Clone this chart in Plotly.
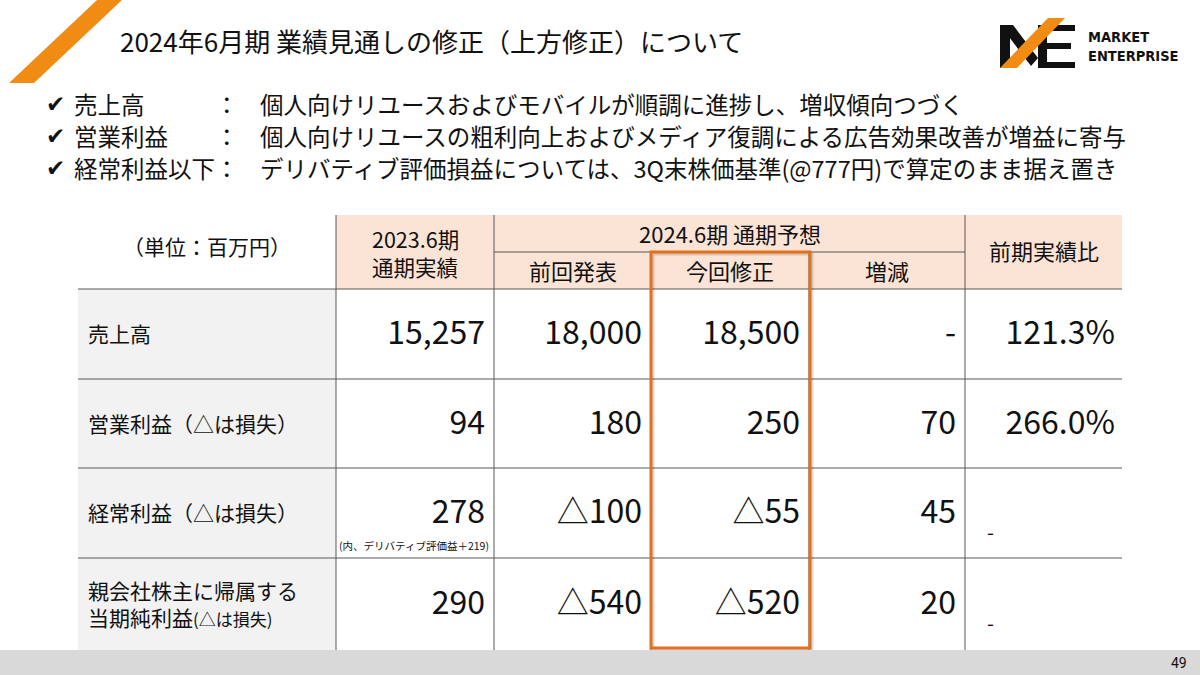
import plotly.graph_objects as go

W, H = 1200, 675
FONT = "Noto Sans CJK JP"

TITLE = "2024年6月期 業績見通しの修正（上方修正）について"
BULLET_LABELS = ["売上高", "営業利益", "経常利益以下"]
BULLET_TEXTS = [
    "個人向けリユースおよびモバイルが順調に進捗し、増収傾向つづく",
    "個人向けリユースの粗利向上およびメディア復調による広告効果改善が増益に寄与",
    "デリバティブ評価損益については、3Q末株価基準(@777円)で算定のまま据え置き",
]

UNIT_LABEL = "（単位：百万円）"
HEAD_2023 = ["2023.6期", "通期実績"]
HEAD_2024 = "2024.6期 通期予想"
SUB_HEADS = ["前回発表", "今回修正", "増減"]
HEAD_YOY = "前期実績比"

ROW_LABELS = [
    "売上高",
    "営業利益（△は損失）",
    "経常利益（△は損失）",
    "親会社株主に帰属する<br>当期純利益<span style='font-size:17px'>(△は損失)</span>",
]
FY2023 = ["15,257", "94", "278", "290"]
PREV = ["18,000", "180", "△100", "△540"]
REVISED = ["18,500", "250", "△55", "△520"]
CHANGE = ["-", "70", "45", "20"]
YOY = ["121.3%", "266.0%", "-", "-"]
NOTE_2023 = "(内、デリバティブ評価益＋219)"
PAGE = "49"

# table grid (pixels, y downward)
COL_EDGES = [78, 336, 494, 651, 809, 965, 1122]
ROW_EDGES = [215, 252, 289, 379, 468, 558, 650]

LINE = "#595959"
PINK = "#FBE4D5"
GRAY = "#F2F2F2"
ORANGE = "#F08C14"
BOX = "#E2711D"

fig = go.Figure()
shapes = []
ann = []


def rect(x0, y0, x1, y1, fill):
    shapes.append(dict(type="rect", xref="x", yref="y", x0=x0, y0=y0, x1=x1, y1=y1,
                       fillcolor=fill, line=dict(width=0), layer="below"))


def seg(x0, y0, x1, y1, color=LINE, width=1):
    shapes.append(dict(type="line", xref="x", yref="y", x0=x0, y0=y0, x1=x1, y1=y1,
                       line=dict(color=color, width=width)))


def text(x, y, s, size, anchor="left", color="#111111", family=FONT):
    ann.append(dict(x=x, y=y, xref="x", yref="y", text=s, showarrow=False,
                    xanchor=anchor, yanchor="middle", align=anchor,
                    font=dict(size=size, color=color, family=family)))


# corner stripe + title
shapes.append(dict(type="path", xref="x", yref="y", path="M 97,0 L 122,0 L 34,83 L 9,83 Z",
                   fillcolor=ORANGE, line=dict(width=0)))
text(118, 40, TITLE, 26)

# logo
for p in ["M 1000,25 L 1010,25 L 1010,68 L 1000,68 Z",
          "M 1000,25 L 1013,25 L 1038,58 L 1031,66 Z",
          "M 1038,25 L 1075,25 L 1075,31 L 1038,31 Z",
          "M 1045,43 L 1071,43 L 1071,49 L 1045,49 Z",
          "M 1038,62 L 1075,62 L 1075,68 L 1038,68 Z",
          "M 1038,25 L 1047,25 L 1047,68 L 1038,68 Z"]:
    shapes.append(dict(type="path", xref="x", yref="y", path=p, fillcolor="#111111", line=dict(width=0)))
shapes.append(dict(type="path", xref="x", yref="y", path="M 1000,68 L 1017,68 L 1065,18 L 1048,18 Z",
                   fillcolor=ORANGE, line=dict(width=0)))
text(1086, 37, "<b>MARKET</b>", 14.5, family="DejaVu Sans Condensed")
text(1086, 56, "<b>ENTERPRISE</b>", 14.5, family="DejaVu Sans Condensed")

# bullets
for i, (lab, body) in enumerate(zip(BULLET_LABELS, BULLET_TEXTS)):
    y = 104 + i * 32
    text(44, y, "✔", 23, family="DejaVu Sans")
    text(72, y, lab, 23.5)
    text(213, y, "：", 23.5)
    text(258, y, body, 23.5)

# table fills
rect(COL_EDGES[1], ROW_EDGES[0], COL_EDGES[-1], ROW_EDGES[2], PINK)
rect(COL_EDGES[0], ROW_EDGES[2], COL_EDGES[1], ROW_EDGES[-1], GRAY)

# grid lines
for y in ROW_EDGES[2:-1]:
    seg(COL_EDGES[0], y, COL_EDGES[-1], y)
seg(COL_EDGES[2], ROW_EDGES[1], COL_EDGES[5], ROW_EDGES[1])
for x in [COL_EDGES[1], COL_EDGES[2], COL_EDGES[5]]:
    seg(x, ROW_EDGES[0], x, ROW_EDGES[-1])
for x in [COL_EDGES[3], COL_EDGES[4]]:
    seg(x, ROW_EDGES[1], x, ROW_EDGES[-1])

# headers
text((COL_EDGES[0] + COL_EDGES[1]) / 2, 246, UNIT_LABEL, 21, anchor="center")
for k, h in enumerate(HEAD_2023):
    text((COL_EDGES[1] + COL_EDGES[2]) / 2, 238 + k * 28, h, 21.5, anchor="center")
text((COL_EDGES[2] + COL_EDGES[5]) / 2, 233, HEAD_2024, 22, anchor="center")
for j, h in enumerate(SUB_HEADS):
    text((COL_EDGES[2 + j] + COL_EDGES[3 + j]) / 2, 270, h, 22, anchor="center")
text((COL_EDGES[5] + COL_EDGES[6]) / 2, 250, HEAD_YOY, 22, anchor="center")

# row labels
for i, lab in enumerate(ROW_LABELS):
    yc = (ROW_EDGES[2 + i] + ROW_EDGES[3 + i]) / 2
    text(86, yc - 1, lab, 21)

# numbers
xs, ys, ts = [], [], []
for j, col in enumerate([FY2023, PREV, REVISED, CHANGE]):
    for i, v in enumerate(col):
        xs.append(COL_EDGES[2 + j] - 9)
        ys.append((ROW_EDGES[2 + i] + ROW_EDGES[3 + i]) / 2 + 2)
        ts.append(v)
for i, v in enumerate(YOY):
    yc = (ROW_EDGES[2 + i] + ROW_EDGES[3 + i]) / 2
    if v == "-":
        text(985, yc + 18, v, 20)
    else:
        xs.append(COL_EDGES[6] - 7)
        ys.append(yc + 2)
        ts.append(v)
fig.add_trace(go.Scatter(x=xs, y=ys, text=ts, mode="text", textposition="middle left",
                         textfont=dict(size=32, color="#111111", family=FONT),
                         hoverinfo="skip", showlegend=False))
text(COL_EDGES[2] - 3, 545, NOTE_2023, 10.5, anchor="right")

# highlighted column box
shapes.append(dict(type="rect", xref="x", yref="y", x0=653, y0=254, x1=812, y1=650,
                   line=dict(color="rgba(0,0,0,0.15)", width=3)))
shapes.append(dict(type="rect", xref="x", yref="y", x0=651, y0=252, x1=810, y1=648,
                   line=dict(color=BOX, width=3)))

# footer
shapes.append(dict(type="rect", xref="x", yref="y", x0=0, y0=650, x1=W, y1=H,
                   fillcolor="#D9D9D9", line=dict(width=0)))
text(1189, 663, PAGE, 14, anchor="right", family="Roboto")

fig.update_layout(
    width=W, height=H,
    margin=dict(l=0, r=0, t=0, b=0),
    paper_bgcolor="white", plot_bgcolor="white",
    xaxis=dict(range=[0, W], visible=False, fixedrange=True),
    yaxis=dict(range=[H, 0], visible=False, fixedrange=True),
    shapes=shapes, annotations=ann,
    showlegend=False, hovermode=False,
)

# page body has a default 8px margin; drop it so the slide fills the window
fig.write_html("out.html", config={"displayModeBar": False},
               post_script="document.body.style.margin='0';")
